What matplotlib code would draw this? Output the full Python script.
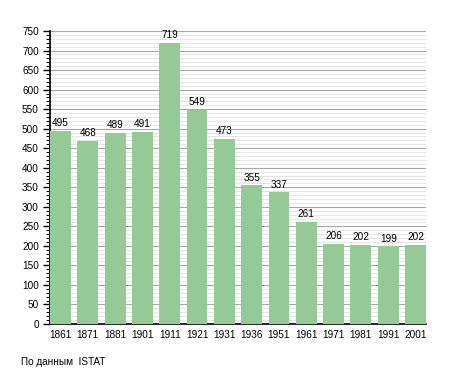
import numpy as np
import matplotlib.pyplot as plt
from matplotlib.ticker import MultipleLocator

plt.rcParams['font.family'] = ['Liberation Sans', 'DejaVu Sans']

# データ
years = ['1861', '1871', '1881', '1901', '1911', '1921', '1931',
         '1936', '1951', '1961', '1971', '1981', '1991', '2001']
population = [495, 468, 489, 491, 719, 549, 473, 355, 337, 261, 206, 202, 199, 202]

fig = plt.figure(figsize=(4.55, 3.73), dpi=100)
ax = fig.add_axes([50 / 455, 1 - 324 / 373, 376 / 455, 293 / 373])

x = np.arange(len(years))
ax.bar(x, population, width=0.765, color='#95c995', zorder=3)

for xi, v in zip(x, population):
    ax.text(xi, v + 7, str(v), ha='center', va='bottom', fontsize=7.2, zorder=4)

ax.set_xlim(-0.3825, len(years) - 1 + 0.3825)
ax.set_ylim(0, 750)
ax.set_xticks(x)
ax.set_xticklabels(years)
ax.yaxis.set_major_locator(MultipleLocator(50))
ax.yaxis.set_minor_locator(MultipleLocator(10))

ax.grid(axis='y', which='major', color='#a8a8a8', linewidth=0.8, zorder=0)
ax.grid(axis='y', which='minor', color='#e6e6e6', linewidth=0.8, zorder=0)
ax.set_axisbelow(True)

for s in ['top', 'right']:
    ax.spines[s].set_visible(False)
ax.spines['left'].set_linewidth(1.2)
ax.spines['bottom'].set_linewidth(1.2)

ax.tick_params(axis='x', length=0, pad=4, labelsize=7.2)
ax.tick_params(axis='y', which='major', length=5, width=1, labelsize=7.2, pad=3)
ax.tick_params(axis='y', which='minor', length=3, width=0.8)

fig.text(21 / 455, 1 - 362 / 373, 'По данным  ISTAT', fontsize=7.2, va='center')

fig.savefig('out.png', dpi=100)
